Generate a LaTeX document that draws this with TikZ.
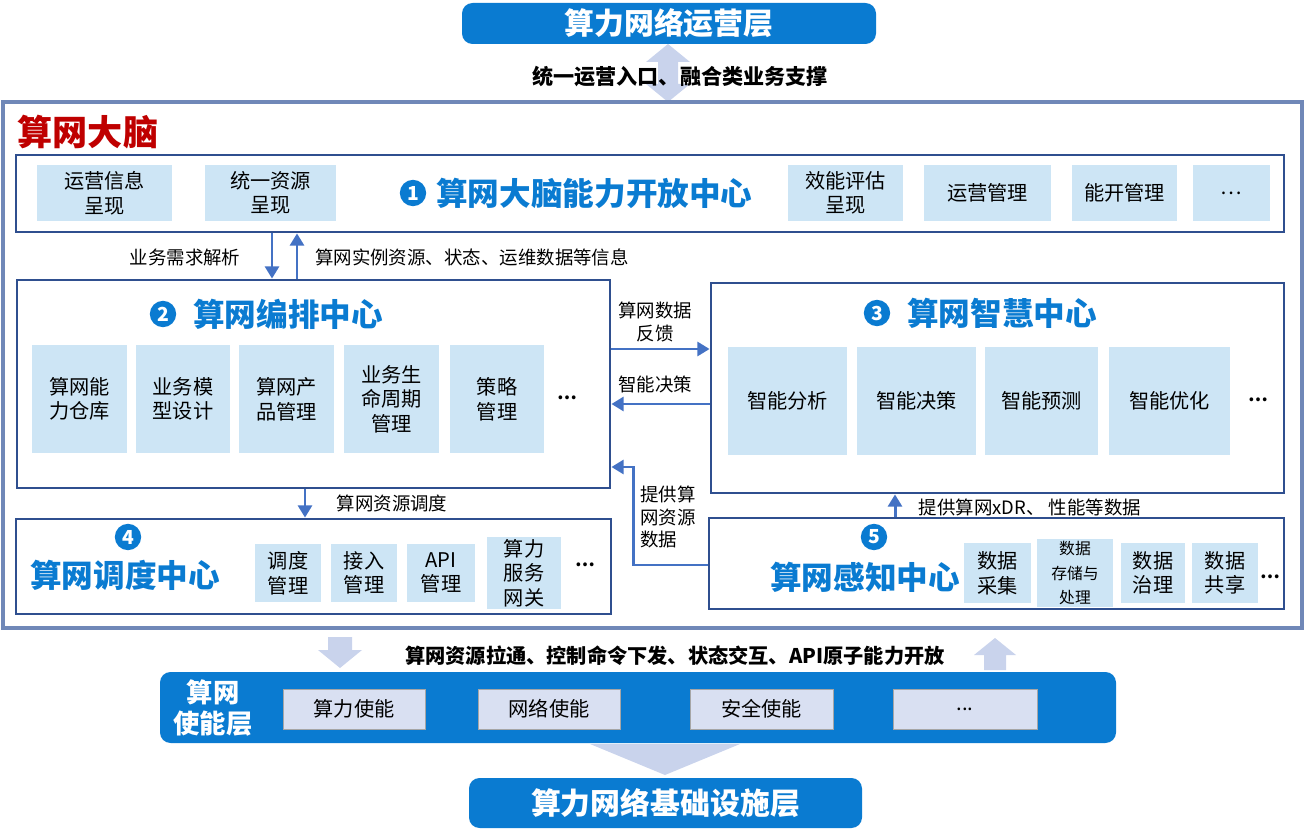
\documentclass[tikz,border=0pt]{standalone}
\usepackage{fontspec}
\setmainfont{Noto Sans CJK SC}
\usetikzlibrary{positioning, arrows.meta}
\definecolor{cmblue}{HTML}{0A7BD1}
\definecolor{boxline}{HTML}{2F4F8F}
\definecolor{outerline}{HTML}{7088B8}
\definecolor{subfill}{HTML}{CDE5F5}
\definecolor{lav}{HTML}{C9D3EC}
\definecolor{arrline}{HTML}{4472C4}
\tikzset{
    layer/.style = {fill=cmblue, rounded corners=6pt, text=white, font=\fontsize{17}{19}\selectfont\bfseries},
    center/.style = {draw=boxline, line width=1.6pt},
    sub/.style = {fill=subfill, align=center, font=\fontsize{11.5}{14}\selectfont},
    enable/.style = {fill=lav!70, draw=gray!70, font=\fontsize{11.5}{14}\selectfont},
    title/.style = {text=cmblue, font=\fontsize{18}{20}\selectfont\bfseries},
    num/.style = {circle, fill=cmblue, text=white, inner sep=0pt, minimum size=15pt, font=\fontsize{11}{11}\selectfont\bfseries},
    lbl/.style = {font=\fontsize{10.5}{13}\selectfont, align=center},
    flow/.style = {draw=arrline, line width=1.7pt, -{Triangle[length=7pt, width=8pt]}},
}
\newcommand{\boxat}[6]{\node[#1, minimum width=#4*0.02cm-#2*0.02cm, minimum height=#5*0.02cm-#3*0.02cm, inner sep=1pt] (#6) at ({(#2+#4)/2}, {(#3+#5)/2})}
\begin{document}
\begin{tikzpicture}[x=0.02cm, y=-0.02cm]
    \useasboundingbox (0,0) rectangle (1305,831);

    % top layer
    \boxat{layer}{462}{3}{876}{44}{ops} {算力网络运营层};
    \fill[lav] (668,44) -- (690,62) -- (678,62) -- (678,84) -- (690,84) -- (668,102) -- (646,84) -- (658,84) -- (658,62) -- (646,62) -- cycle;
    \node[font=\fontsize{12}{14}\selectfont\bfseries] (opsl) at (680,77) {统一运营入口、融合类业务支撑};

    % brain frame
    \draw[outerline, line width=2.5pt] (3,102) rectangle (1302,628);
    \node[text=red!75!black, font=\fontsize{20}{22}\selectfont\bfseries] (brain) at (88,132) {算网大脑};

    % 1 open capability center
    \boxat{center}{16}{155}{1284}{232}{c1} {};
    \boxat{sub}{37}{165}{172}{221}{s11} {运营信息\\呈现};
    \boxat{sub}{205}{165}{336}{221}{s12} {统一资源\\呈现};
    \node[num] (n1) at (413,193) {1};
    \node[title, right=2pt of n1] (t1) {算网大脑能力开放中心};
    \boxat{sub}{788}{165}{903}{221}{s13} {效能评估\\呈现};
    \boxat{sub}{924}{165}{1051}{221}{s14} {运营管理};
    \boxat{sub}{1072}{165}{1177}{221}{s15} {能开管理};
    \boxat{sub}{1193}{165}{1270}{221}{s16} {…};

    % 2 orchestration center
    \boxat{center}{17}{280}{610}{488}{c2} {};
    \node[num] (n2) at (163,314) {2};
    \node[title, right=6pt of n2] (t2) {算网编排中心};
    \boxat{sub}{32}{345}{127}{453}{s21} {算网能\\力仓库};
    \boxat{sub}{136}{345}{230}{453}{s22} {业务模\\型设计};
    \boxat{sub}{239}{345}{334}{453}{s23} {算网产\\品管理};
    \boxat{sub}{344}{345}{439}{453}{s24} {业务生\\命周期\\管理};
    \boxat{sub}{450}{345}{544}{453}{s25} {策略\\管理};
    \node[font=\bfseries] (s26) at (567,398) {…};

    % 3 intelligence center
    \boxat{center}{711}{283}{1284}{493}{c3} {};
    \node[num] (n3) at (877,313) {3};
    \node[title, right=6pt of n3] (t3) {算网智慧中心};
    \boxat{sub}{728}{347}{847}{455}{s31} {智能分析};
    \boxat{sub}{857}{347}{976}{455}{s32} {智能决策};
    \boxat{sub}{985}{347}{1098}{455}{s33} {智能预测};
    \boxat{sub}{1109}{347}{1230}{455}{s34} {智能优化};
    \node[font=\bfseries] (s35) at (1258,400) {…};

    % 4 scheduling center
    \boxat{center}{16}{519}{611}{614}{c4} {};
    \node[num] (n4) at (128,537) {4};
    \node[title] (t4) at (125,575) {算网调度中心};
    \boxat{sub}{255}{544}{321}{602}{s41} {调度\\管理};
    \boxat{sub}{331}{544}{397}{602}{s42} {接入\\管理};
    \boxat{sub}{407}{544}{475}{602}{s43} {API\\管理};
    \boxat{sub}{487}{544}{561}{602}{s44} {算力\\服务\\网关};
    \node[font=\bfseries] (s45) at (585,565) {…};

    % 5 perception center
    \boxat{center}{709}{518}{1284}{609}{c5} {};
    \node[num] (n5) at (874,537) {5};
    \node[title] (t5) at (865,577) {算网感知中心};
    \boxat{sub}{964}{543}{1031}{603}{s51} {数据\\采集};
    \boxat{sub}{1037}{543}{1113}{603}{s52} {\fontsize{9}{10.5}\selectfont 数据\\\fontsize{9}{10.5}\selectfont 存储与\\\fontsize{9}{10.5}\selectfont 处理};
    \boxat{sub}{1121}{543}{1185}{603}{s53} {数据\\治理};
    \boxat{sub}{1192}{543}{1258}{603}{s54} {数据\\共享};
    \node[font=\bfseries] (s55) at (1270,577) {…};

    % flows
    \draw[flow] (c1.south -| 272,0) -- (c2.north -| 272,0);
    \draw[flow] (c2.north -| 297,0) -- (c1.south -| 297,0);
    \node[lbl] (f1) at (185,258) {业务需求解析};
    \node[lbl] (f2) at (472,257) {算网实例资源、状态、运维数据等信息};
    \draw[flow] (c2.east |- 0,349) -- (c3.west |- 0,349);
    \node[lbl] (f3) at (655,322) {算网数据\\反馈};
    \draw[flow] (c3.west |- 0,404) -- (c2.east |- 0,404);
    \node[lbl] (f4) at (655,384) {智能决策};
    \draw[flow] (c2.south -| 305,0) -- (c4.north -| 305,0);
    \node[lbl] (f5) at (392,503) {算网资源调度};
    \draw[flow] (c5.north -| 895,0) -- (c3.south -| 895,0);
    \node[lbl] (f6) at (1030,507) {提供算网xDR、 性能等数据};
    \draw[flow] (c5.west |- 0,565) -- (633,565) -- (633,467) -- (c2.east |- 0,467);
    \node[lbl, align=left] (f7) at (668,517) {提供算\\网资源\\数据};

    % enable layer
    \fill[lav] (328,637) -- (352,637) -- (352,650) -- (362,650) -- (340,668) -- (318,650) -- (328,650) -- cycle;
    \fill[lav] (984,670) -- (1006,670) -- (1006,655) -- (1016,655) -- (995,638) -- (974,655) -- (984,655) -- cycle;
    \node[font=\fontsize{11.5}{14}\selectfont\bfseries] (downl) at (675,656) {算网资源拉通、控制命令下发、状态交互、API原子能力开放};
    \boxat{layer}{160}{672}{1116}{743}{en} {};
    \node[text=white, align=center, font=\fontsize{15}{18}\selectfont\bfseries] (ent) at (213,708) {算网\\使能层};
    \boxat{enable}{283}{689}{425}{729}{e1} {算力使能};
    \boxat{enable}{478}{689}{620}{729}{e2} {网络使能};
    \boxat{enable}{690}{689}{833}{729}{e3} {安全使能};
    \boxat{enable}{893}{689}{1037}{729}{e4} {...};
    \fill[lav] (590,744) -- (740,744) -- (665,775) -- cycle;

    % infrastructure
    \boxat{layer}{469}{778}{862}{828}{infra} {算力网络基础设施层};
\end{tikzpicture}
\end{document}
